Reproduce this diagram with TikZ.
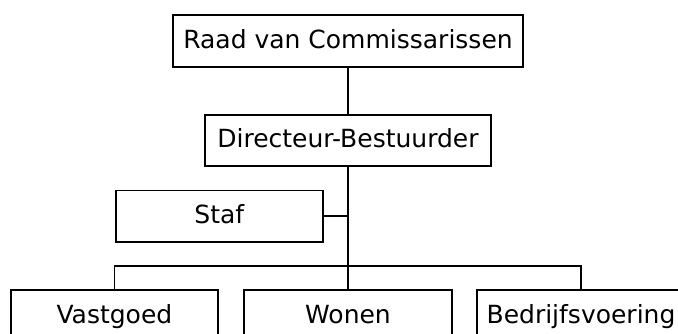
\documentclass[tikz,border=0pt]{standalone}
\usepackage{fontspec}
\setmainfont{DejaVu Sans}
\begin{document}
\begin{tikzpicture}[x=1pt,y=-1pt,
  box/.style={draw=black,line width=1.7pt,rectangle,inner sep=0pt,
    font=\fontsize{25}{28}\selectfont,text height=18pt,text depth=3.5pt,
    minimum height=51.5pt},
  link/.style={draw=black,line width=1.7pt}]
\useasboundingbox (0,0) rectangle (678,334);
\clip (0,0) rectangle (678,334);
\fill[white] (0,0) rectangle (678,334);
\node[box,minimum width=350pt] (rvc) at (348,41) {Raad van Commissarissen};
\node[box,minimum width=286pt] (dir) at (348,140.5) {Directeur-Bestuurder};
\node[box,minimum width=207pt] (staf) at (219.3,216.3) {Staf};
\node[box,minimum width=207pt] (vast) at (114.4,316) {Vastgoed};
\node[box,minimum width=208pt] (won) at (348,316) {Wonen};
\node[box,minimum width=208pt] (bed) at (581,316) {Bedrijfsvoering};
\coordinate (bus) at (348,266);
\draw[link] (rvc) -- (dir);
\draw[link] (dir) -- (won);
\draw[link] (staf.east) -- (staf.east -| dir.south);
\draw[link] (vast.north) |- (bus) -| (bed.north);
\end{tikzpicture}
\end{document}
